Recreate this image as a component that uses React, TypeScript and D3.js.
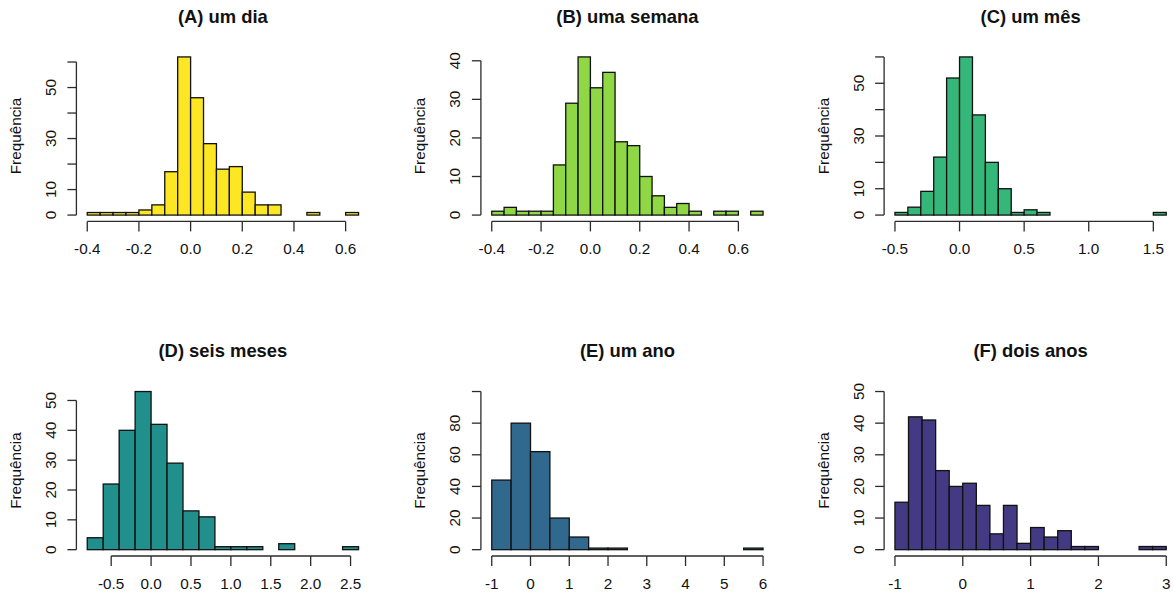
import React from "react";
import * as d3 from "d3";

// panel titles and fill colours (viridis, reversed)
const titles = ["(A) um dia", "(B) uma semana", "(C) um mês", "(D) seis meses", "(E) um ano", "(F) dois anos"];
const fills = ["#FDE725", "#8FD744", "#35B779", "#21908C", "#31688E", "#443A83"];

// histogram bins: first break and bin width
const binStarts = [-0.4, -0.4, -0.5, -0.8, -1, -1];
const binWidths = [0.05, 0.05, 0.1, 0.2, 0.5, 0.2];

// counts per bin
const countsA = [1, 1, 1, 1, 2, 4, 17, 62, 46, 28, 18, 19, 9, 4, 4, 0, 0, 1, 0, 0, 1];
const countsB = [1, 2, 1, 1, 1, 13, 29, 41, 33, 37, 19, 18, 10, 5, 2, 3, 1, 0, 1, 1, 0, 1];
const countsC = [1, 3, 9, 22, 52, 60, 38, 20, 10, 1, 2, 1, 0, 0, 0, 0, 0, 0, 0, 0, 1];
const countsD = [4, 22, 40, 53, 42, 29, 13, 11, 1, 1, 1, 0, 2, 0, 0, 0, 1];
const countsE = [44, 80, 62, 20, 8, 1, 1, 0, 0, 0, 0, 0, 0, 1];
const countsF = [15, 42, 41, 25, 20, 21, 14, 5, 14, 2, 7, 4, 6, 1, 1, 0, 0, 0, 1, 1];
const counts = [countsA, countsB, countsC, countsD, countsE, countsF];

// fixed y limits (null = from data)
const yLims = [null, null, null, null, 100, 50];

// axis ticks
const xTicks = [
  [-0.4, -0.2, 0, 0.2, 0.4, 0.6],
  [-0.4, -0.2, 0, 0.2, 0.4, 0.6],
  [-0.5, 0, 0.5, 1, 1.5],
  [-0.5, 0, 0.5, 1, 1.5, 2, 2.5],
  [-1, 0, 1, 2, 3, 4, 5, 6],
  [-1, 0, 1, 2, 3],
];
const yTicks = [
  [0, 10, 20, 30, 40, 50, 60],
  [0, 10, 20, 30, 40],
  [0, 10, 20, 30, 40, 50, 60],
  [0, 10, 20, 30, 40, 50],
  [0, 20, 40, 60, 80, 100],
  [0, 10, 20, 30, 40, 50],
];
const yLabelled = [
  [0, 10, 30, 50],
  [0, 10, 20, 30, 40],
  [0, 10, 30, 50],
  [0, 10, 20, 30, 40, 50],
  [0, 20, 40, 60, 80],
  [0, 10, 20, 30, 40, 50],
];

const W = 1173;
const H = 597;
const colLefts = [76.4, 480.9, 884.1];
const rowTops = [50.6, 385.2];
const pw = 293;
const ph = 170.8;
const font = "'Liberation Sans', Arial, sans-serif";

const fmtX = (i: number) => (v: number) => {
  if (i >= 4) return String(v);
  return v.toFixed(1);
};

function Panel({ i }: { i: number }) {
  const left = colLefts[i % 3];
  const top = rowTops[Math.floor(i / 3)];
  const bottom = top + ph;
  const c = counts[i];
  const b0 = binStarts[i];
  const bw = binWidths[i];
  const b1 = b0 + bw * c.length;
  const xr = b1 - b0;
  const x = d3.scaleLinear().domain([b0 - 0.04 * xr, b1 + 0.04 * xr]).range([left, left + pw]);
  const ymax = yLims[i] ?? d3.max(c)!;
  const y = d3.scaleLinear().domain([-0.04 * ymax, 1.04 * ymax]).range([bottom, top]);
  const xt = xTicks[i];
  const yt = yTicks[i];
  const f = fmtX(i);
  const axisCol = "#2b2b2b";

  return (
    <g>
      <text x={left + pw / 2} y={top - 34.3} textAnchor="middle" dominantBaseline="central"
        fontFamily={font} fontWeight="bold" fontSize={18.4} fill="#111">{titles[i]}</text>
      {c.map((n, k) => {
        const x0 = x(b0 + k * bw);
        const x1 = x(b0 + (k + 1) * bw);
        return (
          <rect key={k} x={x0} y={y(n)} width={x1 - x0} height={y(0) - y(n)}
            fill={fills[i]} stroke="#111" strokeWidth={1.3} />
        );
      })}
      {/* x axis */}
      <line x1={x(xt[0])} x2={x(xt[xt.length - 1])} y1={bottom} y2={bottom} stroke={axisCol} strokeWidth={1.3} />
      {xt.map((v) => (
        <g key={v}>
          <line x1={x(v)} x2={x(v)} y1={bottom} y2={bottom + 10} stroke={axisCol} strokeWidth={1.3} />
          <text x={x(v)} y={bottom + 27.5} textAnchor="middle" dominantBaseline="central"
            fontFamily={font} fontSize={15.3} fill="#111">{f(v)}</text>
        </g>
      ))}
      {/* y axis */}
      <line x1={left} x2={left} y1={y(yt[0])} y2={y(yt[yt.length - 1])} stroke={axisCol} strokeWidth={1.3} />
      {yt.map((v) => (
        <line key={v} x1={left - 9} x2={left} y1={y(v)} y2={y(v)} stroke={axisCol} strokeWidth={1.3} />
      ))}
      {yLabelled[i].map((v) => (
        <text key={v} transform={`translate(${left - 26},${y(v)}) rotate(-90)`} textAnchor="middle"
          dominantBaseline="central" fontFamily={font} fontSize={15.3} fill="#111">{v}</text>
      ))}
      <text transform={`translate(${left - 61},${(top + bottom) / 2}) rotate(-90)`} textAnchor="middle"
        dominantBaseline="central" fontFamily={font} fontSize={15.3} fill="#111">Frequência</text>
    </g>
  );
}

export default function App() {
  return (
    <svg width={W} height={H} style={{ position: "absolute", left: 0, top: 0, background: "#fff" }}>
      <rect width={W} height={H} fill="#fff" />
      {titles.map((_, i) => (
        <Panel key={i} i={i} />
      ))}
    </svg>
  );
}
